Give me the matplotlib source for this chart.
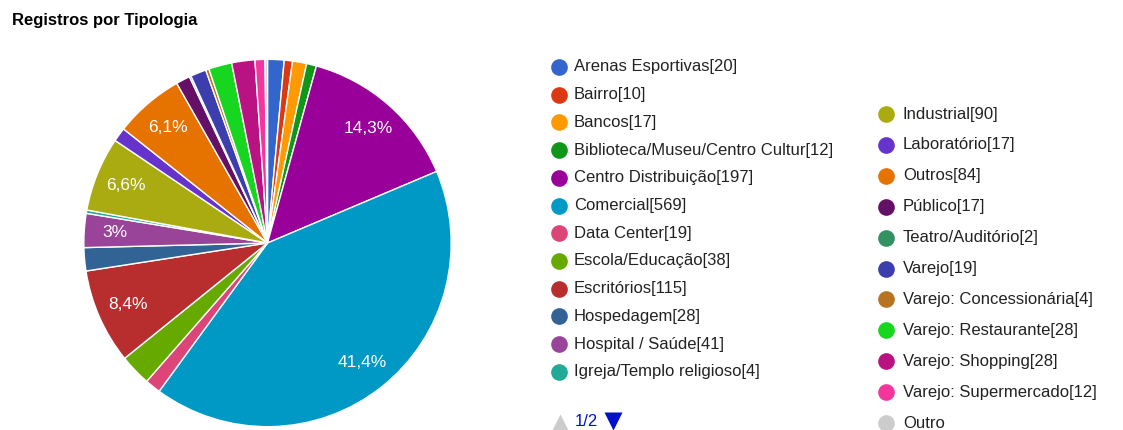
import matplotlib
matplotlib.use("Agg")
import matplotlib.pyplot as plt

plt.rcParams["font.family"] = ["Liberation Sans", "DejaVu Sans"]

categories = [
    "Arenas Esportivas", "Bairro", "Bancos", "Biblioteca/Museu/Centro Cultur",
    "Centro Distribuição", "Comercial", "Data Center", "Escola/Educação",
    "Escritórios", "Hospedagem", "Hospital / Saúde", "Igreja/Templo religioso",
    "Industrial", "Laboratório", "Outros", "Público", "Teatro/Auditório",
    "Varejo", "Varejo: Concessionária", "Varejo: Restaurante",
    "Varejo: Shopping", "Varejo: Supermercado", "Outro",
]
counts = [20, 10, 17, 12, 197, 569, 19, 38, 115, 28, 41, 4,
          90, 17, 84, 17, 2, 19, 4, 28, 28, 12, 3]
colors = [
    "#3366cc", "#dc3912", "#ff9900", "#109618", "#990099", "#0099c6",
    "#dd4477", "#66aa00", "#b82e2e", "#316395", "#994499", "#22aa99",
    "#aaaa11", "#6633cc", "#e67300", "#651067", "#329262", "#3b3eac",
    "#b77322", "#16d620", "#b91383", "#f4359e", "#cccccc",
]
# legend page 1: first column rows, second column rows
col1 = categories[:12]
col2 = categories[12:]

W, H = 1123, 430
fig = plt.figure(figsize=(W / 100, H / 100), dpi=100)

# pie area in pixels: centre (267.5, 243), radius 185.5
cx, cy, r = 267.5, 243, 185.5
ax = fig.add_axes([(cx - r) / W, (H - cy - r) / H, 2 * r / W, 2 * r / H])


def pct_label(p):
    if p < 2.9:
        return ""
    s = f"{p:.1f}".replace(".", ",")
    if s.endswith(",0"):
        s = s[:-2]
    return s + "%"


wedges, _, autotexts = ax.pie(
    counts, colors=colors, startangle=90, counterclock=False,
    autopct=pct_label, pctdistance=0.83,
    wedgeprops=dict(edgecolor="white", linewidth=1.0),
    textprops=dict(color="white", fontsize=12.5),
)
ax.set_xlim(-1.01, 1.01)
ax.set_ylim(-1.01, 1.01)
ax.set_aspect("equal")
ax.axis("off")

# overlay in pixel coordinates for title and legend
ov = fig.add_axes([0, 0, 1, 1])
ov.set_xlim(0, W)
ov.set_ylim(H, 0)
ov.axis("off")

ov.text(12, 21, "Registros por Tipologia", fontsize=12, fontweight="bold",
        color="#000000", va="center", ha="left")

text_color = "#222222"
for i, name in enumerate(col1):
    y = 67 + 27.7 * i
    k = categories.index(name)
    ov.plot(559, y, "o", ms=12, color=colors[k], mec="none")
    ov.text(574, y, f"{name}[{counts[k]}]", fontsize=12, color=text_color,
            va="center", ha="left")

for i, name in enumerate(col2):
    y = 114 + 30.9 * i
    k = categories.index(name)
    label = name if name == "Outro" else f"{name}[{counts[k]}]"
    ov.plot(886, y, "o", ms=12, color=colors[k], mec="none")
    ov.text(903, y, label, fontsize=12, color=text_color,
            va="center", ha="left")

# legend paging controls
ov.plot(560, 423, "^", ms=13, color="#cccccc", mec="none")
ov.text(575, 422, "1/2", fontsize=12, color="#0011cc", va="center", ha="left")
ov.plot(613, 421, "v", ms=13, color="#0011cc", mec="none")

fig.savefig("out.png", dpi=100)
